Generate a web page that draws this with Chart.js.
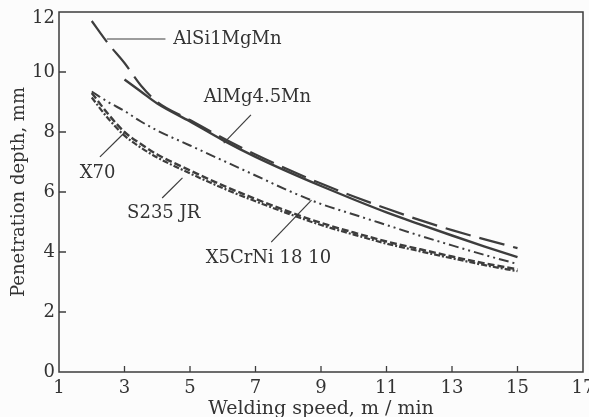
<!DOCTYPE html>
<html>
<head>
<meta charset="utf-8">
<script src="https://cdn.jsdelivr.net/npm/chart.js@4/dist/chart.umd.min.js"></script>
<style>
  html, body { margin: 0; padding: 0; background: #fcfcfc; }
  #wrap { width: 589px; height: 417px; }
</style>
</head>
<body>
<div id="wrap"><canvas id="c" width="589" height="417"></canvas></div>
<script>
// Welding speed, m/min
const speeds = [2, 2.5, 3, 3.5, 4, 5, 6, 7, 8, 9, 10, 11, 12, 13, 14, 15];

// Penetration depth, mm
const alSi1MgMn = [11.7, 10.95, 10.3, 9.55, 9.0, 8.4, 7.8, 7.25, 6.75, 6.28, 5.85, 5.45, 5.07, 4.73, 4.42, 4.13];
const alMg45Mn  = [null, null, 9.75, 9.35, 8.95, 8.35, 7.73, 7.17, 6.67, 6.2, 5.75, 5.32, 4.93, 4.55, 4.18, 3.83];
const x5CrNi    = [9.35, 9.0, 8.7, 8.35, 8.05, 7.55, 7.05, 6.55, 6.05, 5.6, 5.25, 4.9, 4.55, 4.22, 3.9, 3.6];
const x70       = [9.3, 8.6, 8.0, 7.6, 7.25, 6.72, 6.22, 5.77, 5.35, 4.97, 4.65, 4.35, 4.1, 3.85, 3.62, 3.42];
const s235JR    = [9.15, 8.45, 7.88, 7.48, 7.15, 6.62, 6.13, 5.69, 5.28, 4.9, 4.58, 4.28, 4.03, 3.79, 3.56, 3.36];

const xTicks = [1, 3, 5, 7, 9, 11, 13, 15, 17];
const yTicks = [0, 2, 4, 6, 8, 10, 12];

const INK = '#3d3d3d';
const TEXT = '#333333';
const SERIF = '"DejaVu Serif", "Liberation Serif", serif';

// Curve labels with leader lines, in data units (speed, depth)
const curveLabels = [
  { text: 'AlSi1MgMn',    at: [4.49, 11.1], leader: [[2.46, 11.1], [4.25, 11.1]] },
  { text: 'AlMg4.5Mn',    at: [5.42, 9.17], leader: [[6.86, 8.57], [6.03, 7.63]] },
  { text: 'X70',          at: [1.63, 6.63], leader: [[2.25, 7.17], [3.02, 8.0]] },
  { text: 'S235 JR',      at: [3.08, 5.3],  leader: [[4.15, 5.8],  [4.77, 6.47]] },
  { text: 'X5CrNi 18 10', at: [5.48, 3.8],  leader: [[7.48, 4.33], [8.71, 5.73]] }
];

function series(values) {
  return speeds.map((s, i) => ({ x: s, y: values[i] }));
}

const frame = {
  id: 'frame',
  beforeDatasetsDraw(chart) {
    const { ctx, chartArea: a, scales } = chart;
    ctx.save();
    ctx.strokeStyle = INK;
    ctx.lineWidth = 1.5;
    ctx.strokeRect(a.left, a.top, a.right - a.left, a.bottom - a.top);
    ctx.lineWidth = 1.3;
    ctx.beginPath();
    xTicks.slice(1, -1).forEach(v => {
      const px = scales.x.getPixelForValue(v);
      ctx.moveTo(px, a.bottom);
      ctx.lineTo(px, a.bottom - 6);
    });
    yTicks.slice(1, -1).forEach(v => {
      const py = scales.y.getPixelForValue(v);
      ctx.moveTo(a.left, py);
      ctx.lineTo(a.left + 7, py);
    });
    ctx.stroke();
    ctx.restore();
  },
  afterDatasetsDraw(chart) {
    const { ctx, scales } = chart;
    const X = v => scales.x.getPixelForValue(v);
    const Y = v => scales.y.getPixelForValue(v);
    ctx.save();
    ctx.strokeStyle = INK;
    ctx.lineWidth = 1.2;
    ctx.fillStyle = TEXT;
    ctx.font = '18px ' + SERIF;
    ctx.textAlign = 'left';
    ctx.textBaseline = 'middle';
    curveLabels.forEach(l => {
      ctx.beginPath();
      ctx.moveTo(X(l.leader[0][0]), Y(l.leader[0][1]));
      ctx.lineTo(X(l.leader[1][0]), Y(l.leader[1][1]));
      ctx.stroke();
      ctx.fillText(l.text, X(l.at[0]), Y(l.at[1]));
    });
    ctx.restore();
  }
};

const common = {
  fill: false,
  pointRadius: 0,
  borderColor: INK,
  cubicInterpolationMode: 'monotone',
  spanGaps: false
};

new Chart(document.getElementById('c'), {
  type: 'line',
  data: {
    datasets: [
      { ...common, label: 'AlSi1MgMn', data: series(alSi1MgMn), borderWidth: 2.2, borderDash: [26, 9] },
      { ...common, label: 'AlMg4.5Mn', data: series(alMg45Mn), borderWidth: 2.4 },
      { ...common, label: 'X5CrNi 18 10', data: series(x5CrNi), borderWidth: 2, borderDash: [10, 4, 2, 4, 2, 4] },
      { ...common, label: 'X70', data: series(x70), borderWidth: 2.4, borderDash: [7, 3] },
      { ...common, label: 'S235 JR', data: series(s235JR), borderWidth: 2.2, borderDash: [6, 2, 2, 2] }
    ]
  },
  options: {
    responsive: false,
    animation: false,
    layout: { padding: { top: 12, right: 6, left: 0, bottom: 0 } },
    plugins: { legend: { display: false }, tooltip: { enabled: false } },
    scales: {
      x: {
        type: 'linear',
        min: 1, max: 17,
        afterBuildTicks(scale) { scale.ticks = xTicks.map(v => ({ value: v })); },
        afterFit(scale) { scale.height = 45; scale.paddingLeft = 0; scale.paddingRight = 0; },
        grid: { display: false, drawTicks: false },
        border: { display: false },
        ticks: { color: TEXT, padding: 6, maxRotation: 0, autoSkip: false, font: { family: SERIF, size: 18 } },
        title: { display: true, text: 'Welding speed, m / min', color: TEXT, padding: { top: 0, bottom: -3 }, font: { family: SERIF, size: 19 } }
      },
      y: {
        type: 'linear',
        min: 0, max: 12,
        afterBuildTicks(scale) { scale.ticks = yTicks.map(v => ({ value: v })); },
        afterFit(scale) { scale.width = 59; scale.paddingTop = 0; scale.paddingBottom = 0; },
        grid: { display: false, drawTicks: false },
        border: { display: false },
        ticks: {
          color: TEXT, padding: 4, autoSkip: false,
          font: { family: SERIF, size: 18, lineHeight: 0.7 },
          // the top label sits a little below the frame corner
          callback: v => (v === 12 ? ['', '12'] : String(v))
        },
        title: { display: true, text: 'Penetration depth, mm', color: TEXT, padding: { top: 9, bottom: 0 }, font: { family: SERIF, size: 18 } }
      }
    }
  },
  plugins: [frame]
});
</script>
</body>
</html>
